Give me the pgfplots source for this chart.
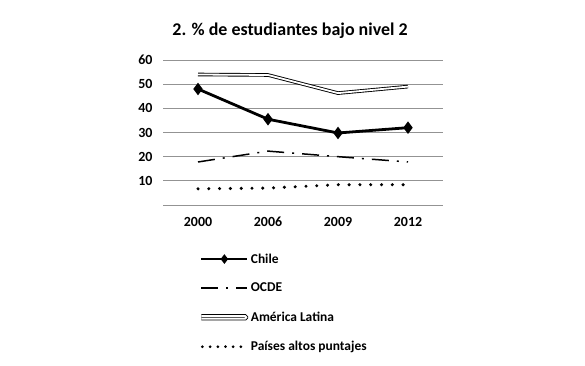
\documentclass[border=0pt]{standalone}
\usepackage{fontspec}
\setmainfont{Carlito}
\usepackage{pgfplots}
\pgfplotsset{compat=1.18}
\begin{document}
\begin{tikzpicture}[x=1bp,y=1bp]
\path[use as bounding box] (0,0) rectangle (585,365);
\node[font=\bfseries\fontsize{18}{20}\selectfont] at (290,334) {2. \% de estudiantes bajo nivel 2};
\begin{axis}[
  at={(163bp,160bp)}, anchor=south west,
  scale only axis, width=280bp, height=145bp,
  xmin=-0.5, xmax=3.5, ymin=0, ymax=60,
  xtick={0,1,2,3}, xticklabels={2000,2006,2009,2012},
  ytick={0,10,20,30,40,50,60}, yticklabels={,10,20,30,40,50,60},
  ymajorgrids, grid style={draw=gray!85, line width=0.7pt},
  axis line style={draw=none}, major tick length=0pt,
  tick label style={font=\bfseries\fontsize{14}{16}\selectfont},
  /pgf/number format/assume math mode=true,
  xticklabel style={anchor=north, text height=10bp, text depth=0bp, yshift=-8bp},
  yticklabel style={xshift=-7bp},
  legend style={at={(0.13,-0.32)}, anchor=north west, draw=none, fill=none,
    font=\bfseries\fontsize{13.5}{15}\selectfont, row sep=14.5bp, inner sep=0pt,
    nodes={inner xsep=2bp}},
  legend cell align=left,
]
\addplot[black, line width=2.8pt, mark=diamond*, mark size=4pt, mark options={solid},
  legend image code/.code={\draw[black,line width=2.2pt,mark=none] (0bp,0bp)--(46bp,0bp);
    \fill[black] (23bp,-2.6bp)--(25bp,0bp)--(23bp,2.6bp)--(21bp,0bp)--cycle;}]
  coordinates {(0,48) (1,35.5) (2,29.8) (3,32)};
\addlegendentry{Chile}
\addplot[black, line width=1.5pt, dash pattern=on 17bp off 8bp on 2bp off 8bp,
  legend image code/.code={\draw[black,line width=1.7pt,dash pattern=on 17bp off 8bp on 2bp off 8bp] (0bp,0bp)--(46bp,0bp);}]
  coordinates {(0,17.8) (1,22.3) (2,20) (3,17.8)};
\addlegendentry{OCDE}
\addplot[black, line width=0.9pt, double=white, double distance=1.8pt,
  legend image code/.code={\draw[black,line width=0.9pt,rounded corners=1.3bp] (0bp,1.35bp)--(45bp,1.35bp)--(45bp,-1.35bp)--(0bp,-1.35bp);}]
  coordinates {(0,54) (1,53.8) (2,46.3) (3,49)};
\addlegendentry{América Latina}
\addplot[black, line width=3.4pt, line cap=round, dash pattern=on 0pt off 10.8bp,
  legend image code/.code={\draw[black,line width=3pt,line cap=round,dash pattern=on 0pt off 7.7bp] (1bp,0bp)--(46bp,0bp);}]
  coordinates {(0,6.7) (1,7) (2,8.4) (3,8.4)};
\addlegendentry{Países altos puntajes}
\end{axis}
\end{tikzpicture}
\end{document}
